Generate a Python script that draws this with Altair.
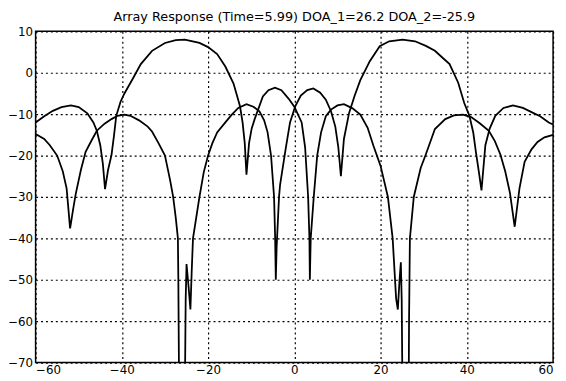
import altair as alt
import pandas as pd

# Curve A: beam steered to DOA_1 (+26), null toward DOA_2 (-26)
xA = [-60, -58, -56.7, -55, -53.7, -52.8, -52.0, -51.3, -50.7, -49.5, -48.4, -47, -45.8,
      -44, -42.4, -41, -39.4, -38, -36, -34, -33, -31.5, -30, -29.5, -28.8, -28.1, -27.5,
      -27.0, -26.9, -26.7, -25.4, -25.2, -25.0, -24.5, -24.1, -23.8, -23.5, -22, -21, -20,
      -19, -17.9, -16, -14.5, -13, -11.1, -9.5, -8.1, -7, -6.2, -5.4, -4.7, -4.45, -4.3,
      -4.1, -3.55, -3.3, -2.0, -1.0, 0.2, 1.5, 3, 4.4, 6, 7.3, 8.5, 9.5, 10.2, 10.8, 11.5,
      12.7, 14, 15.3, 17.5, 19.8, 22, 25.1, 28, 30.5, 32.6, 34.5, 36, 38, 39.4, 40.6, 41.5,
      42.1, 42.8, 43.4, 44.3, 45.3, 46.6, 48.5, 50.7, 53, 55, 57, 59, 60]
yA = [-14.8, -16.0, -17.5, -20, -23.8, -28, -37.6, -33, -29.3, -23.5, -19.1, -16.3, -14,
      -12.3, -11.2, -10.4, -10.1, -10.4, -11.5, -13, -14.2, -17, -20, -22.5, -26, -30, -35,
      -40, -50, -80, -80, -55, -46.2, -52, -57.2, -48, -40, -30, -24, -20,
      -17, -14.4, -12, -10.1, -8.5, -7.6, -8.2, -9.3, -11.5, -14.4, -20, -30, -40, -50,
      -42, -30, -27, -18.3, -12, -8.1, -5.5, -4.2, -3.8, -4.8, -6.5, -9.3, -13, -18, -25, -16,
      -9.7, -5.5, -1.8, 2.8, 6.4, 7.6, 8.0, 7.6, 6.5, 5.3, 3.5, 2.1, -2.4, -7.3, -10.4, -14.5,
      -19.1, -24, -28.4, -17.5, -13.5, -10.4, -8.5, -7.9, -8.5, -9.5, -10.5, -12.0, -12.5]

# Curve B: beam steered to DOA_2 (-26), null toward DOA_1 (+26)
xB = [-60, -58, -56, -54, -51.8, -50, -48, -46.6, -45.8, -45, -44.4, -43.9, -43.2, -42.4,
      -41.8, -41.3, -40.3, -39.4, -37.5, -35.6, -33, -30, -27.5, -25.4, -22, -20, -17.9,
      -16, -14.1, -12.6, -12, -11.5, -11.1, -10.5, -9.9, -9.2, -7.3, -6, -4.5, -3, -1.3,
      0, 1.7, 2.5, 3.2, 3.5, 3.6, 3.8, 4.5, 5.3, 6.2, 7.3, 8.5, 10, 11.5, 13.5, 15.3, 17,
      18.3, 20, 21.7, 22.8, 23.6, 24.0, 24.4, 24.7, 24.9, 25.1, 26.5, 26.6, 26.8, 27.7,
      29.3, 30.4, 32.6, 35, 37, 39.1, 41, 43, 45.1, 46.5, 47.8, 48.9, 50, 51.1, 52.2, 53.4,
      55, 56.4, 58, 60]
yB = [-12.0, -10.5, -9.2, -8.3, -7.9, -8.3, -9.8, -12, -14, -17.5, -22, -28.1, -23.5, -19.9,
      -15, -10.4, -7, -5, -1.5, 2.1, 5.3, 7.2, 7.9, 8.0, 7.2, 6.2, 4.5,
      1.5, -2.6, -8.1, -12, -17, -24.6, -17, -13.5, -11.2, -5.7, -4.2, -3.6, -4.2, -6.3,
      -8.2, -12, -18, -30, -40, -50, -40, -30, -20, -14.4, -10.5, -8.9, -7.9, -7.6, -8.6, -10.1, -13.3,
      -17.5, -22.5, -30, -40, -54.5, -57.2, -50, -45.8, -55, -80, -80, -60, -40, -30,
      -23, -20, -13.6, -11.2, -10.3, -10.1, -10.7, -12.2, -14, -16.5, -19.8, -23.8, -29, -37.2, -28, -21.5,
      -18.5, -16.7, -15.6, -15.0]

x_ticks = [-60, -40, -20, 0, 20, 40, 60]
y_ticks = [10, 0, -10, -20, -30, -40, -50, -60, -70]
title_text = "Array Response (Time=5.99) DOA_1=26.2 DOA_2=-25.9"

rows = []
for i, (x, y) in enumerate(zip(xA, yA)):
    rows.append({"x": x, "y": y, "series": "A", "i": i})
for i, (x, y) in enumerate(zip(xB, yB)):
    rows.append({"x": x, "y": y, "series": "B", "i": i})
df = pd.DataFrame(rows)

chart = (
    alt.Chart(df)
    .mark_line(color="black", strokeWidth=1.8, clip=True)
    .encode(
        x=alt.X("x:Q", scale=alt.Scale(domain=[-60, 60], nice=False, zero=False),
                axis=alt.Axis(values=x_ticks, title=None, format="d")),
        y=alt.Y("y:Q", scale=alt.Scale(domain=[-70, 10], nice=False, zero=False),
                axis=alt.Axis(values=y_ticks, title=None, format="d")),
        detail="series:N",
        order="i:Q",
    )
    .properties(
        width=525,
        height=336,
        background="white",
        title=alt.TitleParams(title_text, fontSize=13, font="DejaVu Sans",
                              fontWeight="normal", color="black", offset=2),
        autosize=alt.AutoSizeParams(type="none"),
        padding={"left": 28, "top": 21, "right": 5, "bottom": 14},
    )
    .configure_view(stroke="black", strokeWidth=1.5)
    .configure_axis(
        grid=True,
        gridColor="black",
        gridDash=[2, 3],
        gridWidth=1.2,
        gridOpacity=1,
        domain=False,
        ticks=False,
        labelFont="DejaVu Sans",
        labelFontSize=12,
        labelColor="black",
        labelPadding=2,
    )
    .configure_axisY(labelPadding=3)
)

chart.save("out.html", embed_options={"renderer": "svg", "actions": False})
